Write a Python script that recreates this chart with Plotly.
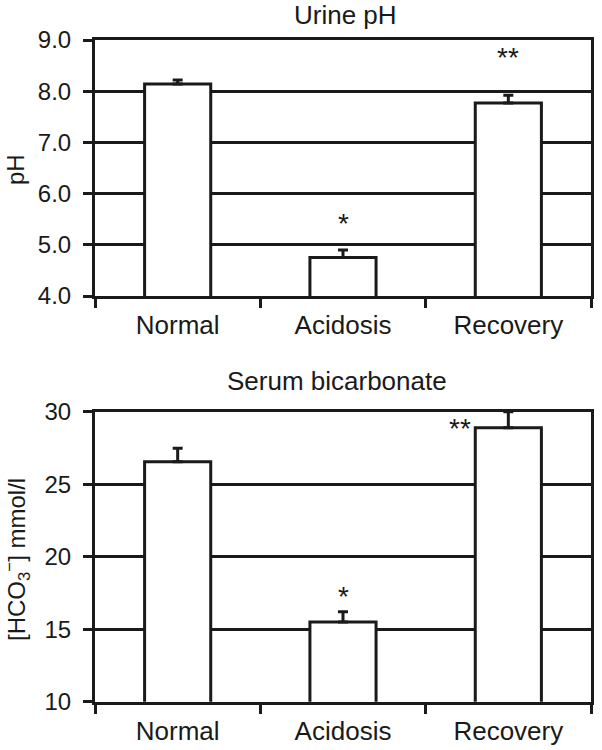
import plotly.graph_objects as go

# ---- data ----
categories = ["Normal", "Acidosis", "Recovery"]
ph_mean = [8.14, 4.75, 7.77]
ph_err = [0.08, 0.15, 0.15]
ph_sig = ["", "*", "**"]
ph_sig_y = [None, 5.48, 8.71]

bicarb_mean = [26.55, 15.5, 28.9]
bicarb_err = [0.93, 0.7, 1.1]
bicarb_sig = ["", "*", "**"]
bicarb_sig_y = [None, 17.48, 29.08]

ph_ticks = [4.0, 5.0, 6.0, 7.0, 8.0, 9.0]
bicarb_ticks = [10, 15, 20, 25, 30]

FONT = "Liberation Sans, Arial, sans-serif"
INK = "#1a1a1a"
W, H = 602, 750

def px_x(p):
    return p / W

def px_y(p):
    return 1 - p / H

fig = go.Figure()

def add_bars(xa, ya, means, errs):
    fig.add_trace(go.Bar(
        x=categories, y=means, xaxis=xa, yaxis=ya,
        width=0.4,
        marker=dict(color="white", line=dict(color=INK, width=3)),
        error_y=dict(type="data", symmetric=False, array=errs,
                     arrayminus=[0] * len(errs),
                     color=INK, thickness=3, width=5),
        showlegend=False, hoverinfo="skip",
    ))

add_bars("x", "y", ph_mean, ph_err)
add_bars("x2", "y2", bicarb_mean, bicarb_err)

xdom = [px_x(95), px_x(591)]

common_x = dict(
    type="category", domain=xdom, range=[-0.5, 2.5], automargin=False,
    showline=True, linecolor=INK, linewidth=3, mirror=True,
    ticks="outside", tickson="boundaries", ticklen=9, tickwidth=3, tickcolor=INK,
    showgrid=False, tickfont=dict(family=FONT, size=26, color=INK),
    ticklabelstandoff=4,
)
common_y = dict(
    automargin=False,
    showline=True, linecolor=INK, linewidth=3, mirror=True,
    ticks="outside", ticklen=9, tickwidth=3, tickcolor=INK,
    showgrid=True, gridcolor=INK, gridwidth=3, zeroline=False,
    ticklabelstandoff=7,
)

fig.update_layout(
    width=W, height=H,
    margin=dict(l=0, r=0, t=0, b=0, pad=0, autoexpand=False),
    paper_bgcolor="white", plot_bgcolor="white",
    showlegend=False,
    xaxis=dict(**common_x, anchor="y"),
    yaxis=dict(**common_y, anchor="x",
               domain=[px_y(296), px_y(40)], range=[4.0, 9.0],
               tickvals=ph_ticks, ticktext=[f"{v:.1f}" for v in ph_ticks],
               tickfont=dict(family=FONT, size=24, color=INK)),
    xaxis2=dict(**common_x, anchor="y2"),
    yaxis2=dict(**common_y, anchor="x2",
                domain=[px_y(701.7), px_y(411.7)], range=[10, 30],
                tickvals=bicarb_ticks, ticktext=[str(v) for v in bicarb_ticks],
                tickfont=dict(family=FONT, size=24, color=INK)),
)

anns = []
# titles
anns.append(dict(text="Urine pH", xref="paper", yref="paper",
                 x=px_x(345), y=px_y(15), xanchor="center", yanchor="middle",
                 showarrow=False, font=dict(family=FONT, size=26, color=INK)))
anns.append(dict(text="Serum bicarbonate", xref="paper", yref="paper",
                 x=px_x(337), y=px_y(381), xanchor="center", yanchor="middle",
                 showarrow=False, font=dict(family=FONT, size=26, color=INK)))
# y titles
anns.append(dict(text="pH", xref="paper", yref="paper",
                 x=px_x(15), y=px_y(170), xanchor="center", yanchor="middle",
                 textangle=-90, showarrow=False,
                 font=dict(family=FONT, size=24, color=INK)))
anns.append(dict(text="[HCO<sub>3</sub><sup>\u2212</sup>] mmol/l", xref="paper", yref="paper",
                 x=px_x(17), y=px_y(560), xanchor="center", yanchor="middle",
                 textangle=-90, showarrow=False,
                 font=dict(family=FONT, size=24, color=INK)))
# significance marks
for c, s, yv in zip(categories, ph_sig, ph_sig_y):
    if s:
        anns.append(dict(text=s, x=c, y=yv, xref="x", yref="y", showarrow=False,
                         xanchor="center", yanchor="middle", yshift=-3,
                         font=dict(family=FONT, size=28, color=INK)))
for c, s, yv in zip(categories, bicarb_sig, bicarb_sig_y):
    if s:
        shift = -48 if s == "**" else 0
        anns.append(dict(text=s, x=c, y=yv, xref="x2", yref="y2", showarrow=False,
                         xanchor="center", yanchor="middle", xshift=shift, yshift=-3,
                         font=dict(family=FONT, size=28, color=INK)))
fig.update_layout(annotations=anns)

fig.write_html(
    "out.html",
    config={"displayModeBar": False},
    post_script="document.body.style.margin='0';document.body.style.padding='0';",
)
